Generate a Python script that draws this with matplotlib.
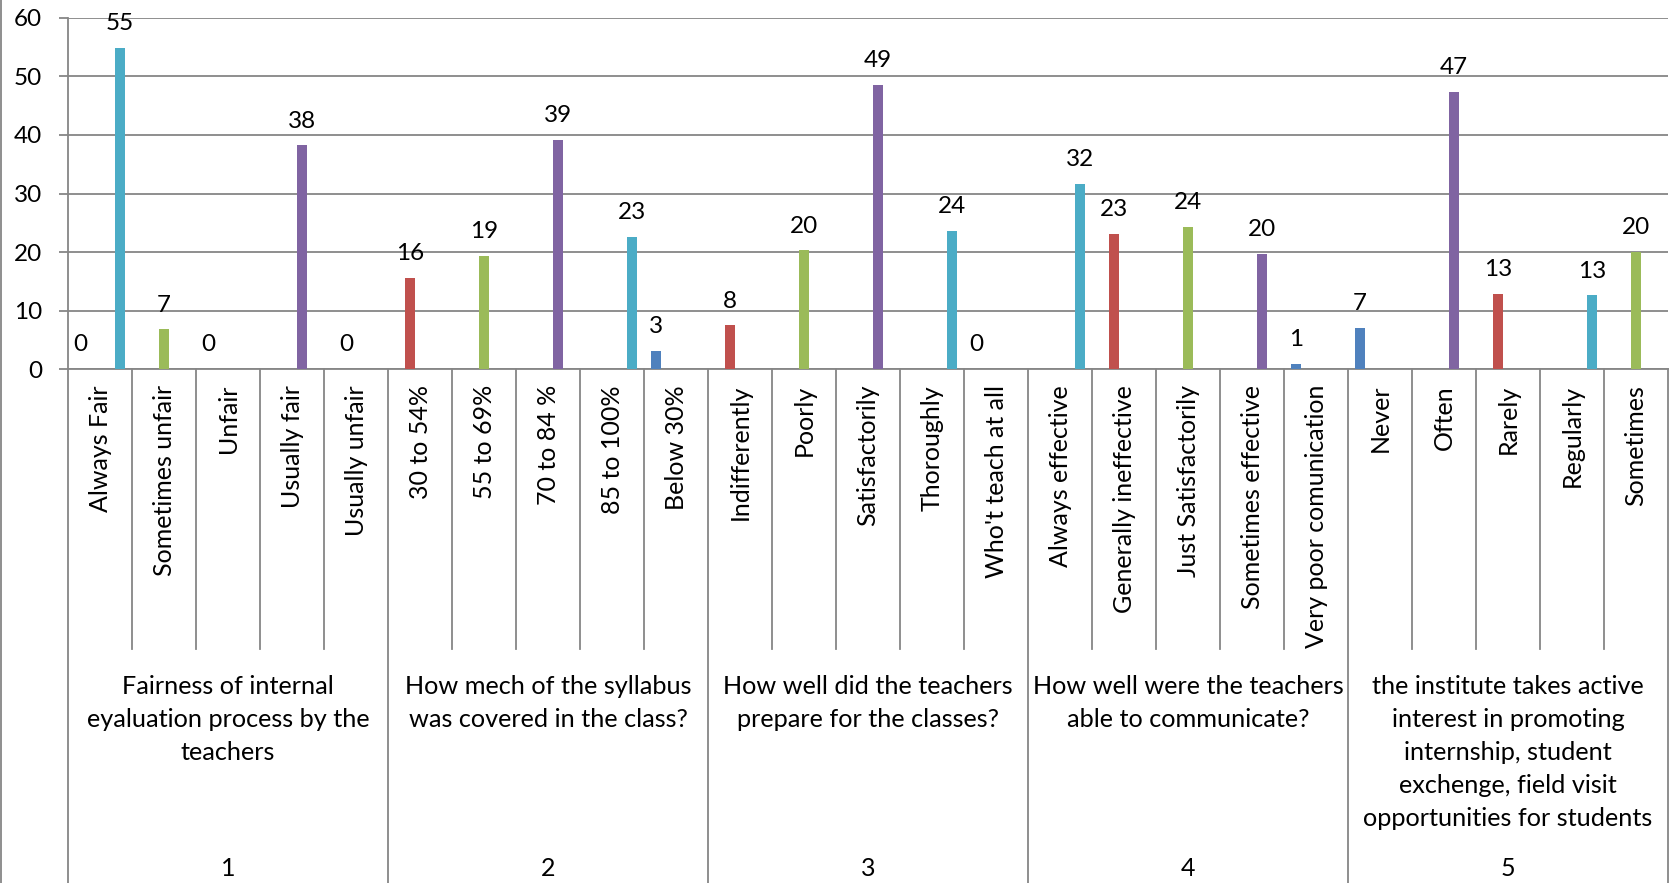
import numpy as np
import matplotlib
matplotlib.use("Agg")
import matplotlib.pyplot as plt
from matplotlib.transforms import blended_transform_factory
from matplotlib.lines import Line2D

nan = np.nan

categories = [
    "Always Fair", "Sometimes unfair", "Unfair", "Usually fair", "Usually unfair",
    "30 to 54%", "55 to 69%", "70 to 84 %", "85 to 100%", "Below 30%",
    "Indifferently", "Poorly", "Satisfactorily", "Thoroughly", "Who't teach at all",
    "Always effective", "Generally ineffective", "Just Satisfactorily", "Sometimes effective", "Very poor comunication",
    "Never", "Often", "Rarely", "Regularly", "Sometimes",
]
groups = [
    "Fairness of internal\neyaluation process by the\nteachers",
    "How mech of the syllabus\nwas covered in the class?",
    "How well did the teachers\nprepare for the classes?",
    "How well were the teachers\nable to communicate?",
    "the institute takes active\ninterest in promoting\ninternship, student\nexchenge, field visit\nopportunities for students",
]
group_numbers = ["1", "2", "3", "4", "5"]

series_blue = [0, nan, 0, nan, nan,  nan, nan, nan, nan, 3.1,  nan, nan, nan, nan, 0,  nan, nan, nan, nan, 0.9,  7.1, nan, nan, nan, nan]
series_red = [nan, nan, nan, nan, 0,  15.6, nan, nan, nan, nan,  7.5, nan, nan, nan, nan,  nan, 23.1, nan, nan, nan,  nan, nan, 12.8, nan, nan]
series_green = [nan, 6.8, nan, nan, nan,  nan, 19.3, nan, nan, nan,  nan, 20.3, nan, nan, nan,  nan, nan, 24.3, nan, nan,  nan, nan, nan, nan, 20.0]
series_purple = [nan, nan, nan, 38.2, nan,  nan, nan, 39.1, nan, nan,  nan, nan, 48.6, nan, nan,  nan, nan, nan, 19.7, nan,  nan, 47.3, nan, nan, nan]
series_cyan = [54.8, nan, nan, nan, nan,  nan, nan, nan, 22.6, nan,  nan, nan, nan, 23.6, nan,  31.6, nan, nan, nan, nan,  nan, nan, nan, 12.6, nan]

yticks = [0, 10, 20, 30, 40, 50, 60]

colors = ["#4F81BD", "#C0504D", "#9BBB59", "#8064A2", "#4BACC6"]
all_series = [series_blue, series_red, series_green, series_purple, series_cyan]

FONT = "Lato"
plt.rcParams["font.family"] = [FONT, "DejaVu Sans"]
GRID = "#868686"

W, H = 1669, 883
fig = plt.figure(figsize=(W / 100, H / 100), dpi=100)
ax_left, ax_right = 68, 1668
ax_top, ax_bottom = 17.7, 369.3
ax = fig.add_axes([ax_left / W, 1 - ax_bottom / H, (ax_right - ax_left) / W, (ax_bottom - ax_top) / H])

n = len(categories)
bw = 10 / 64.0
x = np.arange(n) + 0.5
for i, (vals, c) in enumerate(zip(all_series, colors)):
    vals = np.array(vals, dtype=float)
    xs = x + (i - 2) * bw
    mask = ~np.isnan(vals)
    ax.bar(xs[mask], vals[mask], width=bw, color=c, edgecolor="none", zorder=3)
    for xi, v in zip(xs[mask], vals[mask]):
        ax.annotate(f"{v:.0f}", (xi, v), xytext=(0, 17.5), textcoords="offset points",
                    ha="center", va="center", fontsize=17.5, color="black", zorder=4)

ax.set_xlim(0, n)
ax.set_ylim(0, 60)
ax.set_yticks(yticks)
ax.set_yticklabels([str(t) for t in yticks], fontsize=17.5)
ax.yaxis.grid(True, color=GRID, linewidth=1.3, zorder=0)
ax.set_axisbelow(True)
ax.tick_params(axis="y", direction="out", length=6.5, width=1.3, color=GRID, pad=12)
ax.tick_params(axis="x", bottom=False, labelbottom=False)
for s in ["top", "right"]:
    ax.spines[s].set_visible(False)
ax.spines["left"].set_color(GRID)
ax.spines["left"].set_linewidth(1.3)
ax.spines["bottom"].set_color(GRID)
ax.spines["bottom"].set_linewidth(1.3)

tr = blended_transform_factory(ax.transData, fig.transFigure)
def fy(ypx):
    return 1 - ypx / H

# category dividers
for k in range(n + 1):
    y1 = H if k % 5 == 0 else 649
    fig.add_artist(Line2D([k, k], [fy(ax_bottom), fy(y1)], transform=tr, color=GRID, linewidth=1.3, clip_on=False))

# category labels
for k, lab in enumerate(categories):
    fig.text(k + 0.5, fy(385), lab, transform=tr, rotation=90, ha="center", va="top", fontsize=18)

# group labels
for g, (lab, num) in enumerate(zip(groups, group_numbers)):
    cx = g * 5 + 2.5
    fig.text(cx, fy(675), lab, transform=tr, ha="center", va="top", fontsize=18.2, linespacing=1.53, multialignment="center")
    fig.text(cx, fy(869), num, transform=tr, ha="center", va="center", fontsize=18)

# chart border left
fig.add_artist(Line2D([0.7 / W, 0.7 / W], [0, 1], transform=fig.transFigure, color=GRID, linewidth=1.3))

fig.savefig("out.png", dpi=100)
